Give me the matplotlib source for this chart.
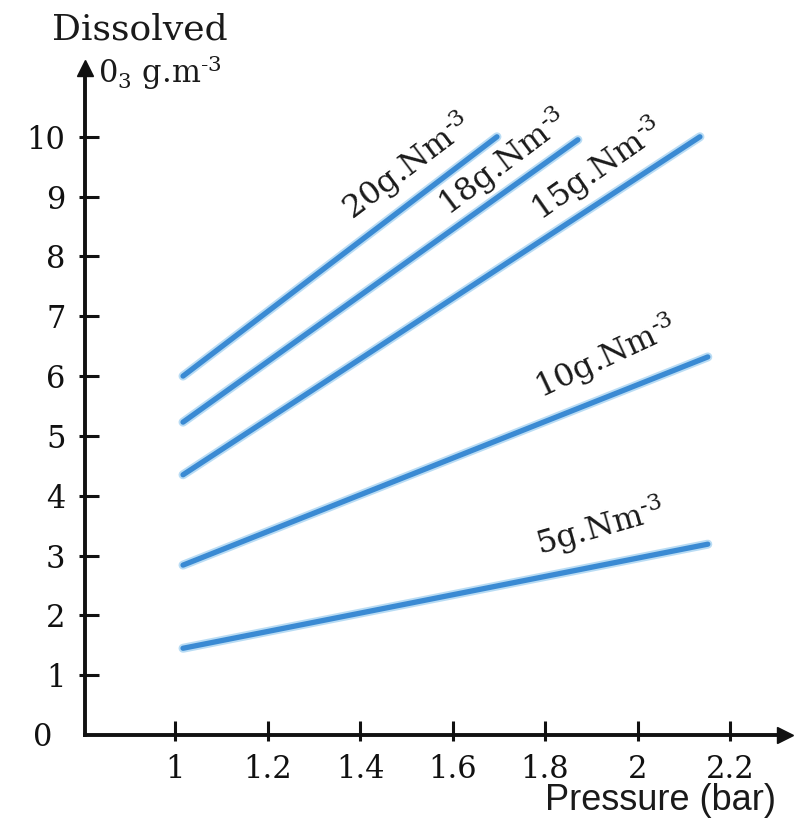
import matplotlib
matplotlib.use("Agg")
import matplotlib.pyplot as plt
from matplotlib.ticker import FixedLocator

# Data
series_labels = ["20g.Nm$^{\\text{-}3}$", "18g.Nm$^{\\text{-}3}$", "15g.Nm$^{\\text{-}3}$",
                 "10g.Nm$^{\\text{-}3}$", "5g.Nm$^{\\text{-}3}$"]
p_20 = [1.017, 1.696]; c_20 = [6.0, 10.0]
p_18 = [1.017, 1.871]; c_18 = [5.23, 9.95]
p_15 = [1.017, 2.135]; c_15 = [4.35, 10.0]
p_10 = [1.017, 2.152]; c_10 = [2.84, 6.32]
p_5 = [1.017, 2.152]; c_5 = [1.45, 3.19]
x_ticks = [1, 1.2, 1.4, 1.6, 1.8, 2, 2.2]
x_tick_labels = ["1", "1.2", "1.4", "1.6", "1.8", "2", "2.2"]
y_ticks = [0, 1, 2, 3, 4, 5, 6, 7, 8, 9, 10]

# label positions (data coords) and rotations
label_pos = [(1.502, 9.5), (1.709, 9.57), (1.912, 9.45), (1.932, 6.32), (1.919, 3.48)]
label_rot = [37, 37, 35, 25, 16]

plt.rcParams['font.family'] = ['DejaVu Serif']
plt.rcParams['mathtext.fontset'] = 'dejavuserif'

fig = plt.figure(figsize=(7.96, 8.23), dpi=100)
ax = fig.add_axes([85/796, 88/823, (785-85)/796, (735-68)/823])
ax.set_xlim(0.805, 2.319)
ax.set_ylim(0, 11.15)

for s in ["top", "right"]:
    ax.spines[s].set_visible(False)
for s in ["left", "bottom"]:
    ax.spines[s].set_linewidth(2.8)
    ax.spines[s].set_color("#111111")

# arrows at axis ends
ax.plot(1, 0, marker=">", color="#111111", markersize=11, transform=ax.transAxes, clip_on=False)
ax.plot(0, 1, marker="^", color="#111111", markersize=11, transform=ax.transAxes, clip_on=False)

line_color = "#3a8ad3"
halo_color = "#b9dcf4"
series = [(p_20, c_20), (p_18, c_18), (p_15, c_15), (p_10, c_10), (p_5, c_5)]
for (px, cy) in series:
    ax.plot(px, cy, color=halo_color, lw=6.5, solid_capstyle="round", zorder=2)
    ax.plot(px, cy, color=line_color, lw=3.8, solid_capstyle="round", zorder=3)

for lab, (lx, ly), rot in zip(series_labels, label_pos, label_rot):
    ax.text(lx, ly, lab, rotation=rot, fontsize=23, ha="center", va="center",
            rotation_mode="anchor", color="#1a1a1a")

ax.xaxis.remove_overlapping_locs = False
ax.yaxis.remove_overlapping_locs = False
ax.xaxis.set_major_locator(FixedLocator(x_ticks))
ax.xaxis.set_minor_locator(FixedLocator(x_ticks))
ax.set_xticklabels(x_tick_labels)
ax.yaxis.set_major_locator(FixedLocator(y_ticks[1:]))
ax.yaxis.set_minor_locator(FixedLocator(y_ticks[1:]))
ax.tick_params(axis="both", which="major", direction="in", length=10, width=2.2,
               labelsize=22, colors="#111111", pad=14)
ax.tick_params(axis="both", which="minor", direction="out", length=4, width=2.2,
               colors="#111111", labelbottom=False, labelleft=False)
# the "0" label at origin
ax.text(-0.047, -0.05, "0", transform=ax.get_yaxis_transform(), ha="right", va="center",
        fontsize=22, color="#111111")

fig.text(140/796, 1 - 30/823, "Dissolved", fontsize=26, ha="center", va="center",
         color="#1a1a1a")
fig.text(98/796, 1 - 73/823, "0$_3$ g.m$^{\\text{-}3}$", fontsize=22, ha="left", va="center",
         color="#1a1a1a")
fig.text(776/796, 1 - 800/823, "Pressure (bar)", fontsize=26, ha="right", va="center",
         color="#1a1a1a", family="Liberation Sans")

fig.savefig("out.png", dpi=100, facecolor="white")
